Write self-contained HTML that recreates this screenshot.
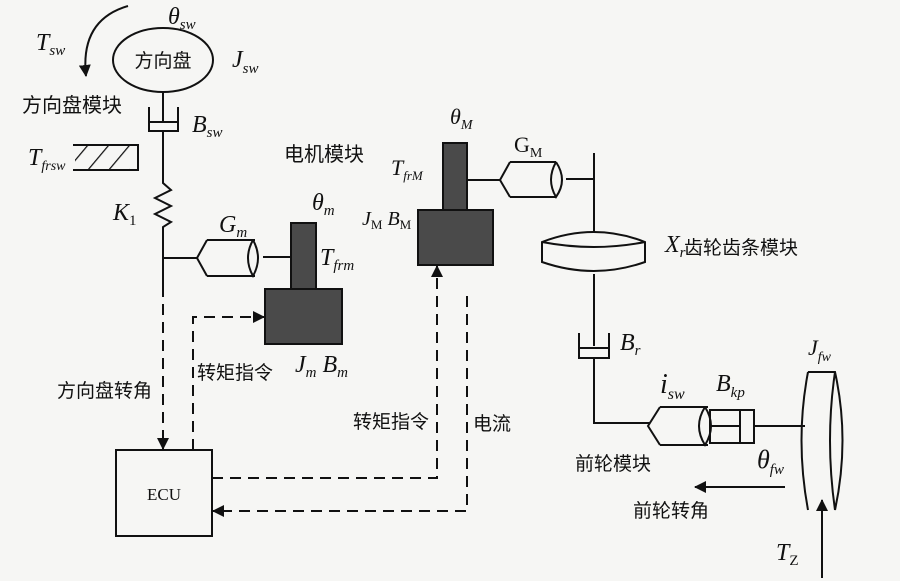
<!DOCTYPE html>
<html><head><meta charset="utf-8"><style>
body{margin:0;background:#f6f6f4}
svg{display:block}
.t{font-family:"Liberation Serif","Noto Serif CJK SC",serif;font-style:italic;fill:#111}
.c{font-family:"Liberation Sans","Noto Sans CJK SC",sans-serif;fill:#111}
</style></head><body>
<svg width="900" height="581" viewBox="0 0 900 581" xmlns="http://www.w3.org/2000/svg">
<defs>
<marker id="a" markerWidth="12" markerHeight="12" refX="11" refY="6" orient="auto" markerUnits="userSpaceOnUse"><path d="M0,0 L12,6 L0,12 z" fill="#111"/></marker>
<pattern id="h" width="16" height="16" patternUnits="userSpaceOnUse" patternTransform="rotate(40)"><line x1="0" y1="0" x2="0" y2="16" stroke="#111" stroke-width="2.5"/></pattern>
</defs>
<g stroke="#111" stroke-width="2" fill="none">
<path d="M128,6 Q80,20 86,76" marker-end="url(#a)"/>
<ellipse cx="163" cy="60" rx="50" ry="32"/>
<line x1="163" y1="92" x2="163" y2="123"/>
<path d="M149,107 V131 H178 V107"/>
<rect x="149" y="122" width="29" height="9"/>
<path d="M163,131 V183 L171,190 L155,198 L171,206 L155,214 L171,222 L163,227 V286"/>
<path d="M73,145 H138 V170 H73"/>
<rect x="75" y="146" width="55" height="23" fill="url(#h)" stroke="none"/>
<line x1="163" y1="258" x2="197" y2="258"/>
<path d="M207,240 H255 M207,276 H255 M207,240 L197,258 L207,276"/>
<path d="M253,240 Q243,258 253,276 Q263,258 253,240"/>
<line x1="263" y1="257" x2="291" y2="257"/>
<rect x="291" y="223" width="25" height="67" fill="#4a4a4a"/>
<rect x="265" y="289" width="77" height="55" fill="#4a4a4a"/>
<rect x="443" y="143" width="24" height="70" fill="#4a4a4a"/>
<rect x="418" y="210" width="75" height="55" fill="#4a4a4a"/>
<line x1="467" y1="180" x2="500" y2="180"/>
<path d="M510,162 H556 M510,197 H556 M510,162 L500,180 L510,197"/>
<path d="M556,162 Q546,180 556,197 Q568,180 556,162"/>
<line x1="566" y1="179" x2="594" y2="179"/>
<line x1="594" y1="153" x2="594" y2="232"/>
<path d="M542,242 Q594,222 645,242 V262 Q594,280 542,262 Z M542,242 Q594,252 645,242"/>
<line x1="594" y1="274" x2="594" y2="346"/>
<path d="M579,333 V358 H609 V333"/>
<rect x="579" y="348" width="30" height="10"/>
<path d="M594,358 V423 H650"/>
<path d="M660,407 H708 M660,445 H708 M660,407 L648,426 L660,445"/>
<path d="M705,407 Q693,426 705,445 Q717,426 705,407"/>
<rect x="710" y="410" width="44" height="33"/>
<line x1="710" y1="426" x2="740" y2="426"/>
<line x1="740" y1="410" x2="740" y2="443"/>
<line x1="754" y1="426" x2="805" y2="426"/>
<path d="M808,372 H835 Q850,440 835,510 M808,372 Q795,440 808,510 M835,372 Q825,440 835,510"/>
<line x1="785" y1="487" x2="695" y2="487" marker-end="url(#a)"/>
<line x1="822" y1="578" x2="822" y2="500" marker-end="url(#a)"/>
<rect x="116" y="450" width="96" height="86"/>
<g stroke-dasharray="11,7">
<line x1="163" y1="286" x2="163" y2="449" marker-end="url(#a)"/>
<path d="M193,450 V317 H264" marker-end="url(#a)"/>
<path d="M212,478 H437 V266" marker-end="url(#a)"/>
<path d="M467,296 V511 H213" marker-end="url(#a)"/>
</g>
</g>
<text class="c" x="163" y="67" font-size="19" text-anchor="middle">方向盘</text>
<text class="t" x="168" y="24" font-size="24">θ<tspan font-size="15" dy="5">sw</tspan></text>
<text class="t" x="36" y="50" font-size="24">T<tspan font-size="15" dy="5">sw</tspan></text>
<text class="t" x="232" y="67" font-size="24">J<tspan font-size="15" dy="6">sw</tspan></text>
<text class="c" x="22" y="112" font-size="20">方向盘模块</text>
<text class="t" x="192" y="132" font-size="24">B<tspan font-size="15" dy="5">sw</tspan></text>
<text class="t" x="28" y="165" font-size="24">T<tspan font-size="14" dy="5">frsw</tspan></text>
<text class="t" x="113" y="220" font-size="24">K<tspan font-size="15" dy="5" font-style="normal">1</tspan></text>
<text class="c" x="284" y="161" font-size="20">电机模块</text>
<text class="t" x="219" y="232" font-size="24">G<tspan font-size="15" dy="5">m</tspan></text>
<text class="t" x="312" y="210" font-size="24">θ<tspan font-size="15" dy="5">m</tspan></text>
<text class="t" x="320" y="265" font-size="24">T<tspan font-size="15" dy="5">frm</tspan></text>
<text class="t" x="391" y="175" font-size="22">T<tspan font-size="13" dy="5">frM</tspan></text>
<text class="t" x="450" y="124" font-size="22">θ<tspan font-size="14" dy="5">M</tspan></text>
<text class="t" x="362" y="225" font-size="20">J<tspan font-size="13" dy="4" font-style="normal">M</tspan><tspan dy="-4"> B</tspan><tspan font-size="13" dy="4" font-style="normal">M</tspan></text>
<text class="t" x="514" y="152" font-size="22" style="font-style:normal">G<tspan font-size="14" dy="5">M</tspan></text>
<text class="t" x="665" y="252" font-size="24">X<tspan font-size="15" dy="5">r</tspan></text>
<text class="c" x="684" y="254" font-size="19">齿轮齿条模块</text>
<text class="t" x="620" y="350" font-size="24">B<tspan font-size="15" dy="5">r</tspan></text>
<text class="t" x="808" y="355" font-size="22">J<tspan font-size="14" dy="6">fw</tspan></text>
<text class="t" x="660" y="393" font-size="28">i<tspan font-size="16" dy="6">sw</tspan></text>
<text class="t" x="716" y="391" font-size="24">B<tspan font-size="15" dy="6">kp</tspan></text>
<text class="c" x="575" y="470" font-size="19">前轮模块</text>
<text class="t" x="757" y="468" font-size="26">θ<tspan font-size="15" dy="6">fw</tspan></text>
<text class="c" x="633" y="517" font-size="19">前轮转角</text>
<text class="t" x="776" y="560" font-size="24">T<tspan font-size="15" dy="5" font-style="normal">Z</tspan></text>
<text class="c" x="57" y="397" font-size="19">方向盘转角</text>
<text class="c" x="197" y="379" font-size="19">转矩指令</text>
<text class="t" x="295" y="372" font-size="24">J<tspan font-size="15" dy="5">m</tspan><tspan dy="-5"> B</tspan><tspan font-size="15" dy="5">m</tspan></text>
<text class="c" x="353" y="428" font-size="19">转矩指令</text>
<text class="c" x="473" y="430" font-size="19">电流</text>
<text x="164" y="500" font-size="17" text-anchor="middle" font-family="Liberation Serif,serif" fill="#111">ECU</text>
</svg>
</body></html>
